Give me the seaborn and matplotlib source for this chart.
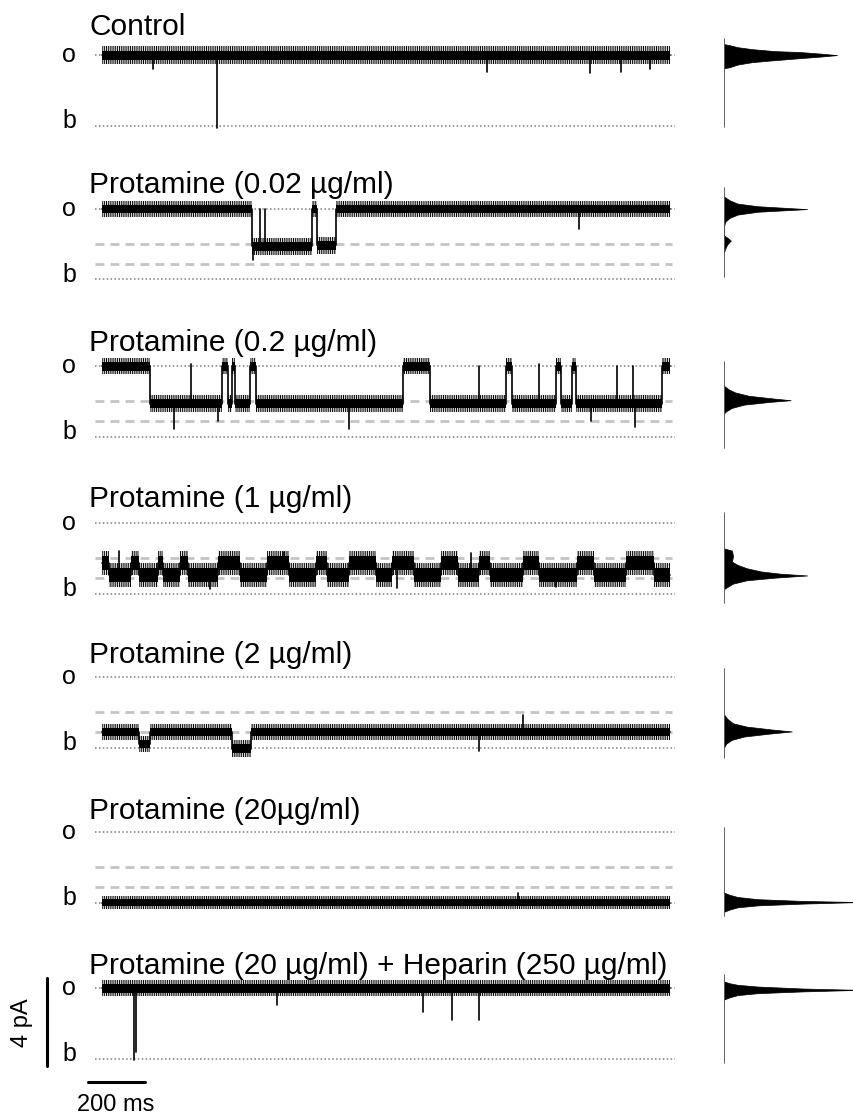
import matplotlib.pyplot as plt
import numpy as np
import seaborn as sb

# ---- data (currents in pA, time in ms) ----
titles = [
    "Control",
    "Protamine (0.02 \u00b5g/ml)",
    "Protamine (0.2 \u00b5g/ml)",
    "Protamine (1 \u00b5g/ml)",
    "Protamine (2 \u00b5g/ml)",
    "Protamine (20\u00b5g/ml)",
    "Protamine (20 \u00b5g/ml) + Heparin (250 \u00b5g/ml)",
]
open_level = 3.2
sub_levels = [1.62, 0.71]
has_sublevels = [False, True, True, True, True, True, False]

# dwells: (start, end, level)
ctrl_dwells = [(0, 2000, 3.2)]
p002_dwells = [(0, 528, 3.2), (528, 739, 1.5), (739, 759, 3.2), (759, 823, 1.55), (823, 2000, 3.2)]
p02_dwells = [(0, 169, 3.2), (169, 424, 1.5), (424, 443, 3.2), (443, 457, 1.5), (457, 470, 3.2),
              (470, 520, 1.5), (520, 543, 3.2), (543, 1060, 1.5), (1060, 1156, 3.2),
              (1156, 1424, 1.5), (1424, 1444, 3.2), (1444, 1597, 1.5), (1597, 1616, 3.2),
              (1616, 1654, 1.5), (1654, 1670, 3.2), (1670, 1971, 1.5), (1971, 2000, 3.2)]
p1_high = [(0, 25), (102, 131), (198, 217), (275, 303), (409, 485), (581, 658), (754, 792),
           (869, 964), (1022, 1099), (1195, 1252), (1329, 1367), (1482, 1539), (1673, 1731),
           (1846, 1942)]
p1_levels = [1.4, 0.85]
p2_dwells = [(0, 131, 0.7), (131, 169, 0.16), (169, 457, 0.7), (457, 524, -0.05), (524, 2000, 0.7)]
p20_dwells = [(0, 2000, 0.0)]
hep_dwells = [(0, 2000, 3.2)]

# brief events: (time, level reached)
ctrl_spikes = [(404, -0.1), (179, 2.56), (1354, 2.44), (1718, 2.4), (1827, 2.44), (1929, 2.56)]
p002_spikes = [(557, 3.2), (575, 3.2), (533, 0.89), (1679, 2.3)]
p02_spikes = [(313, 3.3), (1329, 3.2), (1539, 3.3), (1812, 3.2), (1869, 3.2), (255, 0.34),
              (869, 0.34), (409, 0.7), (1875, 0.45), (1722, 0.7)]
p1_spikes = [(380, 0.2), (1040, 0.25), (1600, 0.3), (60, 1.95), (640, 1.9), (1300, 1.85)]
p2_spikes = [(1329, -0.15), (1482, 1.5)]
p20_spikes = [(1463, 0.45)]
hep_spikes = [(112, -0.05), (122, 0.3), (616, 2.42), (1129, 2.12), (1233, 1.75), (1329, 1.75)]

# noise half widths (inner, outer)
noise = [(0.2, 0.4), (0.2, 0.38), (0.2, 0.38), (0.32, 0.55), (0.2, 0.38), (0.15, 0.3), (0.2, 0.38)]

# amplitude histograms: current (pA), relative count
ctrl_hist_i = [3.7, 3.65, 3.56, 3.47, 3.38, 3.34, 3.27, 3.2, 3.13, 3.06, 2.97, 2.88, 2.77, 2.65, 2.6]
ctrl_hist_n = [0, 0.05, 0.12, 0.25, 0.45, 0.67, 0.85, 1.0, 0.85, 0.67, 0.45, 0.25, 0.12, 0.05, 0]
p002_hist_i = [3.77, 3.6, 3.45, 3.33, 3.2, 3.08, 2.95, 2.8, 2.62, 2.4, 2.0, 1.9, 1.77, 1.6, 1.4, 1.23]
p002_hist_n = [0, 0.05, 0.12, 0.3, 0.735, 0.3, 0.12, 0.05, 0.01, 0, 0, 0.03, 0.06, 0.03, 0.01, 0]
p02_hist_i = [2.3, 2.15, 2.0, 1.85, 1.72, 1.65, 1.57, 1.45, 1.3, 1.15, 1.05]
p02_hist_n = [0, 0.04, 0.1, 0.22, 0.45, 0.59, 0.4, 0.18, 0.07, 0.02, 0]
p1_hist_i = [2.05, 1.95, 1.7, 1.45, 1.3, 1.15, 1.0, 0.9, 0.82, 0.72, 0.6, 0.45, 0.3, 0.2]
p1_hist_n = [0, 0.07, 0.08, 0.07, 0.12, 0.2, 0.33, 0.5, 0.735, 0.45, 0.2, 0.08, 0.03, 0]
p2_hist_i = [1.5, 1.3, 1.1, 0.95, 0.82, 0.73, 0.63, 0.5, 0.35, 0.18, 0.0]
p2_hist_n = [0, 0.03, 0.08, 0.2, 0.42, 0.6, 0.4, 0.18, 0.07, 0.02, 0]
p20_hist_i = [0.45, 0.35, 0.25, 0.15, 0.07, 0.02, -0.05, -0.13, -0.22, -0.32, -0.42]
p20_hist_n = [0, 0.05, 0.12, 0.3, 0.7, 1.2, 0.7, 0.3, 0.12, 0.05, 0]
hep_hist_i = [3.5, 3.42, 3.35, 3.27, 3.18, 3.12, 3.05, 2.97, 2.88, 2.78, 2.68]
hep_hist_n = [0, 0.05, 0.12, 0.3, 0.7, 1.2, 0.7, 0.3, 0.12, 0.05, 0]
hist_spans = [(-0.07, 3.93), (0.11, 4.15), (-0.51, 3.39), (-0.43, 3.66), (-0.49, 3.58),
              (-0.6, 3.4), (-0.19, 3.8)]


def dwells_from_high(high, levels, total=2000):
    out = []
    t = 0
    for a, b in high:
        if a > t:
            out.append((t, a, levels[1]))
        out.append((a, b, levels[0]))
        t = b
    if t < total:
        out.append((t, total, levels[1]))
    return out


def level_at(dwells, ts):
    for a, b, lv in dwells:
        if a <= ts <= b:
            return lv
    return dwells[-1][2]


def draw_trace(ax, dwells, spikes, inner, outer):
    t = np.array([d[0] for d in dwells] + [dwells[-1][1]], dtype=float)
    lv = np.array([d[2] for d in dwells] + [dwells[-1][2]], dtype=float)
    # outer envelope drawn as a fine comb texture, inner as solid ribbon
    ax.fill_between(t, lv - outer, lv + outer, step="post", facecolor="none",
                    edgecolor="k", hatch="|" * 9, lw=0)
    ax.fill_between(t, lv - inner, lv + inner, step="post", color="k", lw=0)
    sb.lineplot(x=t, y=lv, drawstyle="steps-post", estimator=None, sort=False,
                color="k", lw=1.2, ax=ax)
    for ts, lvl in spikes:
        ax.plot([ts, ts], [level_at(dwells, ts), lvl], color="k", lw=1.2)


sb.set_style("white")
plt.rcParams["font.family"] = ["Liberation Sans", "DejaVu Sans"]
plt.rcParams["hatch.linewidth"] = 0.7
plt.rcParams["text.color"] = "black"

W, H = 854, 1115
fig = plt.figure(figsize=(W / 100, H / 100), dpi=100)

# layout (pixels)
b_rows = [125.5, 279.5, 436.5, 593.5, 747.5, 902.5, 1058.5]
title_y = [4.1, 3.93, 3.89, 3.93, 3.84, 3.8, 3.84]
px_per_pA = 22.0
ylo, yhi = -1.2, 4.2
xlo, xhi = -23.6, 2017

all_dwells = [ctrl_dwells, p002_dwells, p02_dwells, dwells_from_high(p1_high, p1_levels),
              p2_dwells, p20_dwells, hep_dwells]
all_spikes = [ctrl_spikes, p002_spikes, p02_spikes, p1_spikes, p2_spikes, p20_spikes, hep_spikes]
all_hist = [(ctrl_hist_i, ctrl_hist_n), (p002_hist_i, p002_hist_n), (p02_hist_i, p02_hist_n),
            (p1_hist_i, p1_hist_n), (p2_hist_i, p2_hist_n), (p20_hist_i, p20_hist_n),
            (hep_hist_i, hep_hist_n)]

for k in range(7):
    h_px = (yhi - ylo) * px_per_pA
    bottom = 1 - (b_rows[k] + (-ylo) * px_per_pA) / H
    ax = fig.add_axes([95 / W, bottom, 580 / W, h_px / H])
    ax.set_xlim(xlo, xhi)
    ax.set_ylim(ylo, yhi)
    ax.axis("off")
    ax.axhline(open_level, color="#9a9a9a", lw=1.4, ls=(0, (0.8, 1.2)), zorder=0)
    ax.axhline(0, color="#9a9a9a", lw=1.4, ls=(0, (0.8, 1.2)), zorder=0)
    if has_sublevels[k]:
        for s in sub_levels:
            ax.plot([xlo, 2005], [s, s], color="#c4c4c4", lw=2, ls=(0, (3.2, 2.2)), zorder=0)
    draw_trace(ax, all_dwells[k], all_spikes[k], *noise[k])
    ax.text(-44.7, title_y[k], titles[k], fontsize=21.5, color="k", ha="left", va="baseline",
            clip_on=False)
    ax.text(-114.7, open_level, "o", fontsize=18, color="k", ha="center", va="center", clip_on=False)
    ax.text(-114.7, 0.2, "b", fontsize=18, color="k", ha="center", va="center", clip_on=False)

    hx = fig.add_axes([724 / W, bottom, 130 / W, h_px / H])
    hx.set_xlim(0, 1.15)
    hx.set_ylim(ylo, yhi)
    hx.axis("off")
    hi, hn = all_hist[k]
    hx.fill_betweenx(hi, 0, hn, color="k", lw=0.5)
    hx.plot([0, 0], list(hist_spans[k]), color="#555555", lw=1.3)

    if k == 6:
        ax.plot([-192.5, -192.5], [-0.36, 3.64], color="k", lw=2.2, clip_on=False)
        ax.plot([-48, 152], [-1.07, -1.07], color="k", lw=2.2, clip_on=False)
        ax.text(50, -2.11, "200 ms", fontsize=17, color="k", ha="center", va="center",
                clip_on=False)
        ax.text(-280, 1.61, "4 pA", fontsize=17, color="k", ha="center", va="center",
                rotation=90, clip_on=False)

fig.savefig("out.png", dpi=100)
